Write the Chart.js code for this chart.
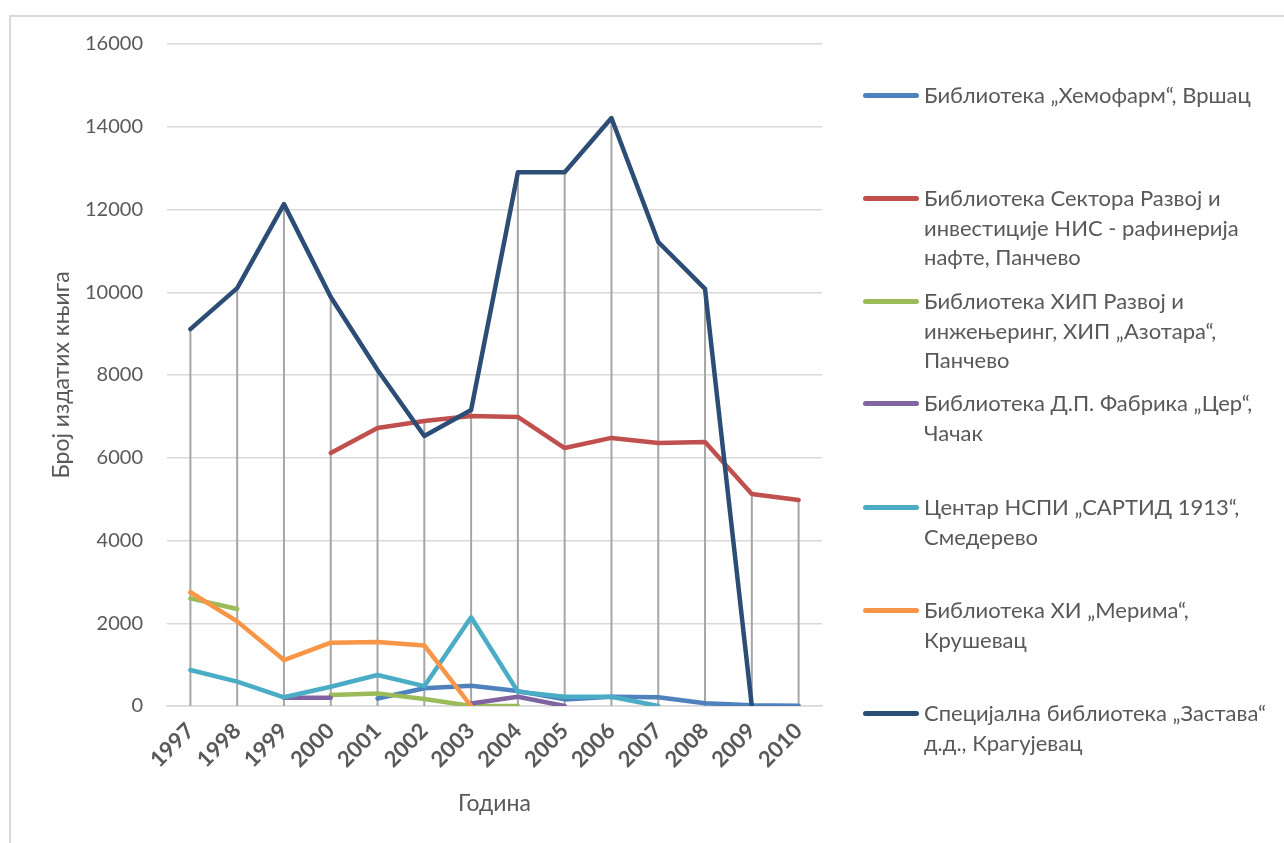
<!DOCTYPE html>
<html>
<head>
  <meta charset="UTF-8">
  <title>Број издатих књига по годинама</title>
  <script src="https://cdn.jsdelivr.net/npm/chart.js"></script>
  <style>
    body { margin: 0; background: #fff; font-family: Lato, "Noto Sans", sans-serif; }
    #frame { position: absolute; left: 9px; top: 15px; width: 1300px; height: 850px; border: 2px solid #d9d9d9; }
    #wrap { position: absolute; left: 0; top: 0; width: 1284px; height: 843px; }
    #legend { position: absolute; left: 0; top: 0; }
    .item { position: absolute; left: 863px; }
    .swatch { position: absolute; left: 0; width: 56px; height: 5px; border-radius: 3px; }
    .text { position: absolute; left: 61px; width: 380px; font-size: 22px; line-height: 29.5px; color: #595959; white-space: nowrap; }
  </style>
</head>
<body>
  <div id="frame"></div>
  <div id="wrap"><canvas id="chart"></canvas></div>
  <div id="legend"></div>

  <script>
    const years = ["1997", "1998", "1999", "2000", "2001", "2002", "2003", "2004", "2005", "2006", "2007", "2008", "2009", "2010"];

    const hemofarm = [null, null, null, null, 180, 430, 490, 360, 160, 225, 210, 65, 20, 5];
    const nisRafinerija = [null, null, null, 6115, 6720, 6890, 7010, 6985, 6235, 6480, 6355, 6380, 5125, 4980];
    const hipAzotara = [2600, 2345, null, 265, 305, 170, 0, 0, null, null, null, null, null, null];
    const fabrikaCer = [null, null, 200, 200, null, null, 60, 225, 0, null, null, null, null, null];
    const sartid = [870, 590, 210, 465, 750, 480, 2145, 345, 225, 225, 0, null, null, null];
    const merima = [2750, 2045, 1110, 1530, 1545, 1465, 0, null, null, null, null, null, null, null];
    const zastava = [9110, 10100, 12130, 9885, 8120, 6525, 7155, 12900, 12900, 14210, 11215, 10080, 0, null];

    const seriesNames = [
      ["Библиотека „Хемофарм“, Вршац"],
      ["Библиотека Сектора Развој и", "инвестиције НИС - рафинерија", "нафте, Панчево"],
      ["Библиотека ХИП Развој и", "инжењеринг, ХИП „Азотара“,", "Панчево"],
      ["Библиотека Д.П. Фабрика „Цер“,", "Чачак"],
      ["Центар НСПИ „САРТИД 1913“,", "Смедерево"],
      ["Библиотека ХИ „Мерима“,", "Крушевац"],
      ["Специјална библиотека „Застава“", "д.д., Крагујевац"]
    ];
    const seriesColors = ["#4f81bd", "#c0504d", "#9bbb59", "#8064a2", "#4bacc6", "#f79646", "#2c4d75"];
    const seriesData = [hemofarm, nisRafinerija, hipAzotara, fabrikaCer, sartid, merima, zastava];
    const legendTops = [95, 198, 301, 403, 507, 610, 713];

    const yTicks = { min: 0, max: 16000, step: 2000 };

    // vertical drop lines from the highest point of each year down to the axis
    const dropLines = {
      id: "dropLines",
      beforeDatasetsDraw(chart) {
        const { ctx, scales: { x, y } } = chart;
        ctx.save();
        ctx.strokeStyle = "#a6a6a6";
        ctx.lineWidth = 2;
        years.forEach((yr, i) => {
          const vals = seriesData.map(s => s[i]).filter(v => v !== null);
          if (!vals.length) return;
          const top = Math.max(...vals);
          const px = x.getPixelForValue(i);
          ctx.beginPath();
          ctx.moveTo(px, y.getPixelForValue(top));
          ctx.lineTo(px, y.getPixelForValue(0));
          ctx.stroke();
        });
        ctx.restore();
      }
    };

    const datasets = seriesData.map((data, i) => ({
      label: seriesNames[i].join(" "),
      data: data,
      borderColor: seriesColors[i],
      backgroundColor: seriesColors[i],
      borderWidth: 4.5,
      pointRadius: 0,
      tension: 0,
      spanGaps: false,
      borderCapStyle: "round",
      borderJoinStyle: "round",
      order: seriesData.length - 1 - i
    }));

    new Chart(document.getElementById("chart"), {
      type: "line",
      data: { labels: years, datasets: datasets },
      options: {
        animation: false,
        responsive: true,
        maintainAspectRatio: false,
        layout: { padding: { top: 44, right: 462, left: 0, bottom: 0 } },
        scales: {
          x: {
            offset: true,
            grid: { display: false, drawTicks: false },
            border: { display: true, color: "#d9d9d9", width: 1.5 },
            ticks: {
              maxRotation: 45, minRotation: 45, padding: 12,
              color: "#595959",
              font: { family: "Lato", size: 22, weight: "bold" }
            },
            title: {
              display: true, text: "Година", color: "#595959",
              font: { family: "Lato", size: 23 },
              padding: { top: 0, bottom: 26 }
            },
            afterFit(scale) { scale.height = 137; }
          },
          y: {
            min: yTicks.min, max: yTicks.max,
            grid: { color: "#d9d9d9", lineWidth: 1.5, drawTicks: false },
            border: { display: false },
            ticks: {
              stepSize: yTicks.step, padding: 24, color: "#595959",
              font: { family: "Lato", size: 20 },
              callback: v => String(v)
            },
            title: {
              display: true, text: "Број издатих књига", color: "#595959",
              font: { family: "Lato", size: 23 },
              padding: { top: 48, bottom: 0 }
            },
            afterFit(scale) { scale.width = 167; }
          }
        },
        plugins: {
          legend: { display: false },
          tooltip: { enabled: false }
        }
      },
      plugins: [dropLines]
    });

    const legendEl = document.getElementById("legend");
    seriesNames.forEach((lines, i) => {
      const item = document.createElement("div");
      item.className = "item";
      item.style.top = (legendTops[i] - 15) + "px";
      item.innerHTML = `<div class="swatch" style="top:12.5px;background:${seriesColors[i]}"></div>` +
        `<div class="text" style="top:0">${lines.join("<br>")}</div>`;
      legendEl.appendChild(item);
    });
  </script>
</body>
</html>
